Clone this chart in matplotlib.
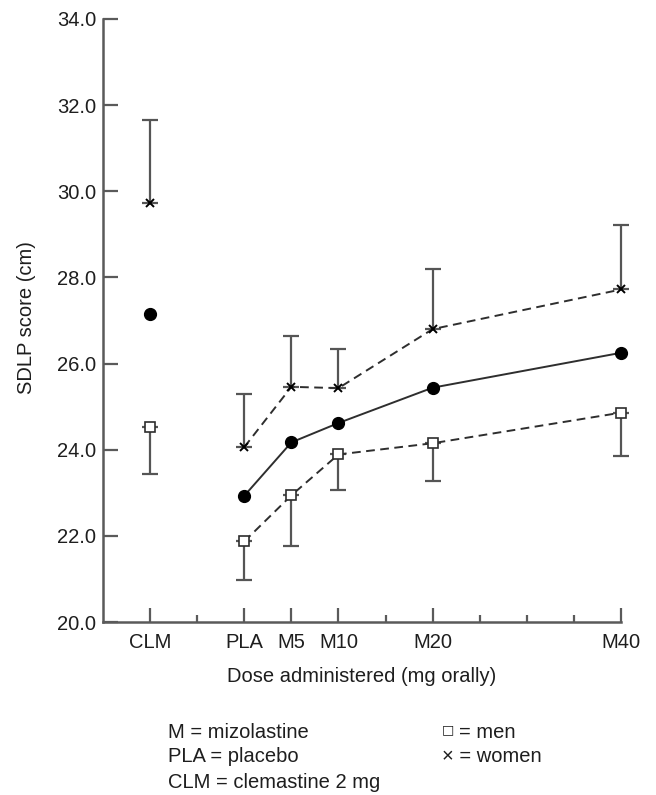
import matplotlib
matplotlib.use("Agg")
import matplotlib.pyplot as plt
import numpy as np

# ---- data ----
labels = ["CLM", "PLA", "M5", "M10", "M20", "M40"]
x_pos = [-10, 0, 5, 10, 20, 40]          # dose axis (CLM placed left of placebo)
mean_all = [27.15, 22.93, 24.17, 24.62, 25.44, 26.25]
women = [29.73, 24.06, 25.46, 25.43, 26.80, 27.72]
women_upper = [31.66, 25.29, 26.64, 26.33, 28.20, 29.21]
men = [24.53, 21.87, 22.94, 23.89, 24.15, 24.86]
men_lower = [23.43, 20.98, 21.76, 23.06, 23.27, 23.85]
minor_x = [-5, 15, 25, 30, 35]
y_ticks = [20, 22, 24, 26, 28, 30, 32, 34]

plt.rcParams["font.family"] = ["Liberation Sans", "DejaVu Sans"]
FS = 14.5
AX_COL = "#5a5a5a"
LINE_COL = "#2e2e2e"
EB_COL = "#555555"
TXT_COL = "#1e1e1e"

fig = plt.figure(figsize=(6.56, 7.95), dpi=100)
ax = fig.add_axes([103 / 656, 1 - 622 / 795, (621 - 103) / 656, (622 - 19) / 795])

x = np.array(x_pos, dtype=float)
w = np.array(women)
wu = np.array(women_upper)
m = np.array(men)
ml = np.array(men_lower)
mu = np.array(mean_all)

# error bars (one-sided)
for yy, lo, hi in [(w, np.zeros_like(w), wu - w), (m, m - ml, np.zeros_like(m))]:
    eb = ax.errorbar(x, yy, yerr=[lo, hi], fmt="none", ecolor=EB_COL,
                     elinewidth=1.6, capsize=6, capthick=1.6, zorder=2)
    for art in eb.lines[1] + eb.lines[2]:
        art.set_clip_on(False)

# connecting lines (placebo to M40)
ax.plot(x[1:], mu[1:], color=LINE_COL, lw=1.4, zorder=3, clip_on=False)
l1, = ax.plot(x[1:], w[1:], color=LINE_COL, lw=1.4, zorder=3, clip_on=False)
l1.set_dashes((4.5, 2.8))
l2, = ax.plot(x[1:], m[1:], color=LINE_COL, lw=1.4, zorder=3, clip_on=False)
l2.set_dashes((4.5, 2.8))

# markers
ax.plot(x, mu, ls="none", marker="o", ms=8.5, mfc="black", mec="black", zorder=5, clip_on=False)
ax.plot(x, w, ls="none", marker="x", ms=5.5, mec="black", mew=1.4, zorder=5, clip_on=False)
ax.plot(x, m, ls="none", marker="s", ms=7, mfc="white", mec=LINE_COL, mew=1.2, zorder=5, clip_on=False)

# axes styling
ax.set_xlim(-15, 40)
ax.set_ylim(20, 34)
for s in ["top", "right"]:
    ax.spines[s].set_visible(False)
for s in ["left", "bottom"]:
    ax.spines[s].set_color(AX_COL)
    ax.spines[s].set_linewidth(1.8)

ax.set_yticks(y_ticks)
ax.set_yticklabels([f"{v:.1f}" for v in y_ticks], fontsize=FS, color=TXT_COL)
ax.set_xticks(x_pos)
ax.set_xticklabels(labels, fontsize=FS, color=TXT_COL)
ax.set_xticks(minor_x, minor=True)
ax.tick_params(axis="y", direction="in", length=11, width=1.6, color=AX_COL, pad=5)
ax.tick_params(axis="x", which="major", direction="in", length=10, width=1.6, color=AX_COL, pad=8)
ax.tick_params(axis="x", which="minor", direction="in", length=5, width=1.6, color=AX_COL)

ax.set_ylabel("SDLP score (cm)", fontsize=FS, color=TXT_COL)
ax.yaxis.label.set_va("center")
ax.yaxis.set_label_coords(-(103 - 27) / 518, (622 - 318) / 603)
ax.set_xlabel("Dose administered (mg orally)", fontsize=FS, color=TXT_COL)
ax.xaxis.label.set_va("center")
ax.xaxis.set_label_coords(0.5, -(677 - 622) / 603)

# key text
kx1, kx2 = 168 / 656, 442 / 656
for txt, yy in [("M = mizolastine", 732), ("PLA = placebo", 757), ("CLM = clemastine 2 mg", 783)]:
    fig.text(kx1, 1 - yy / 795, txt, fontsize=FS, va="center", ha="left", color=TXT_COL)
fig.text(kx2, 1 - 730 / 795, "\u25a1", fontsize=FS * 0.65, va="center", ha="left",
         color=TXT_COL, family="DejaVu Sans")
fig.text(459 / 656, 1 - 732 / 795, "= men", fontsize=FS, va="center", ha="left", color=TXT_COL)
fig.text(kx2, 1 - 757 / 795, "\u00d7 = women", fontsize=FS, va="center", ha="left", color=TXT_COL)

fig.savefig("out.png", dpi=100)
